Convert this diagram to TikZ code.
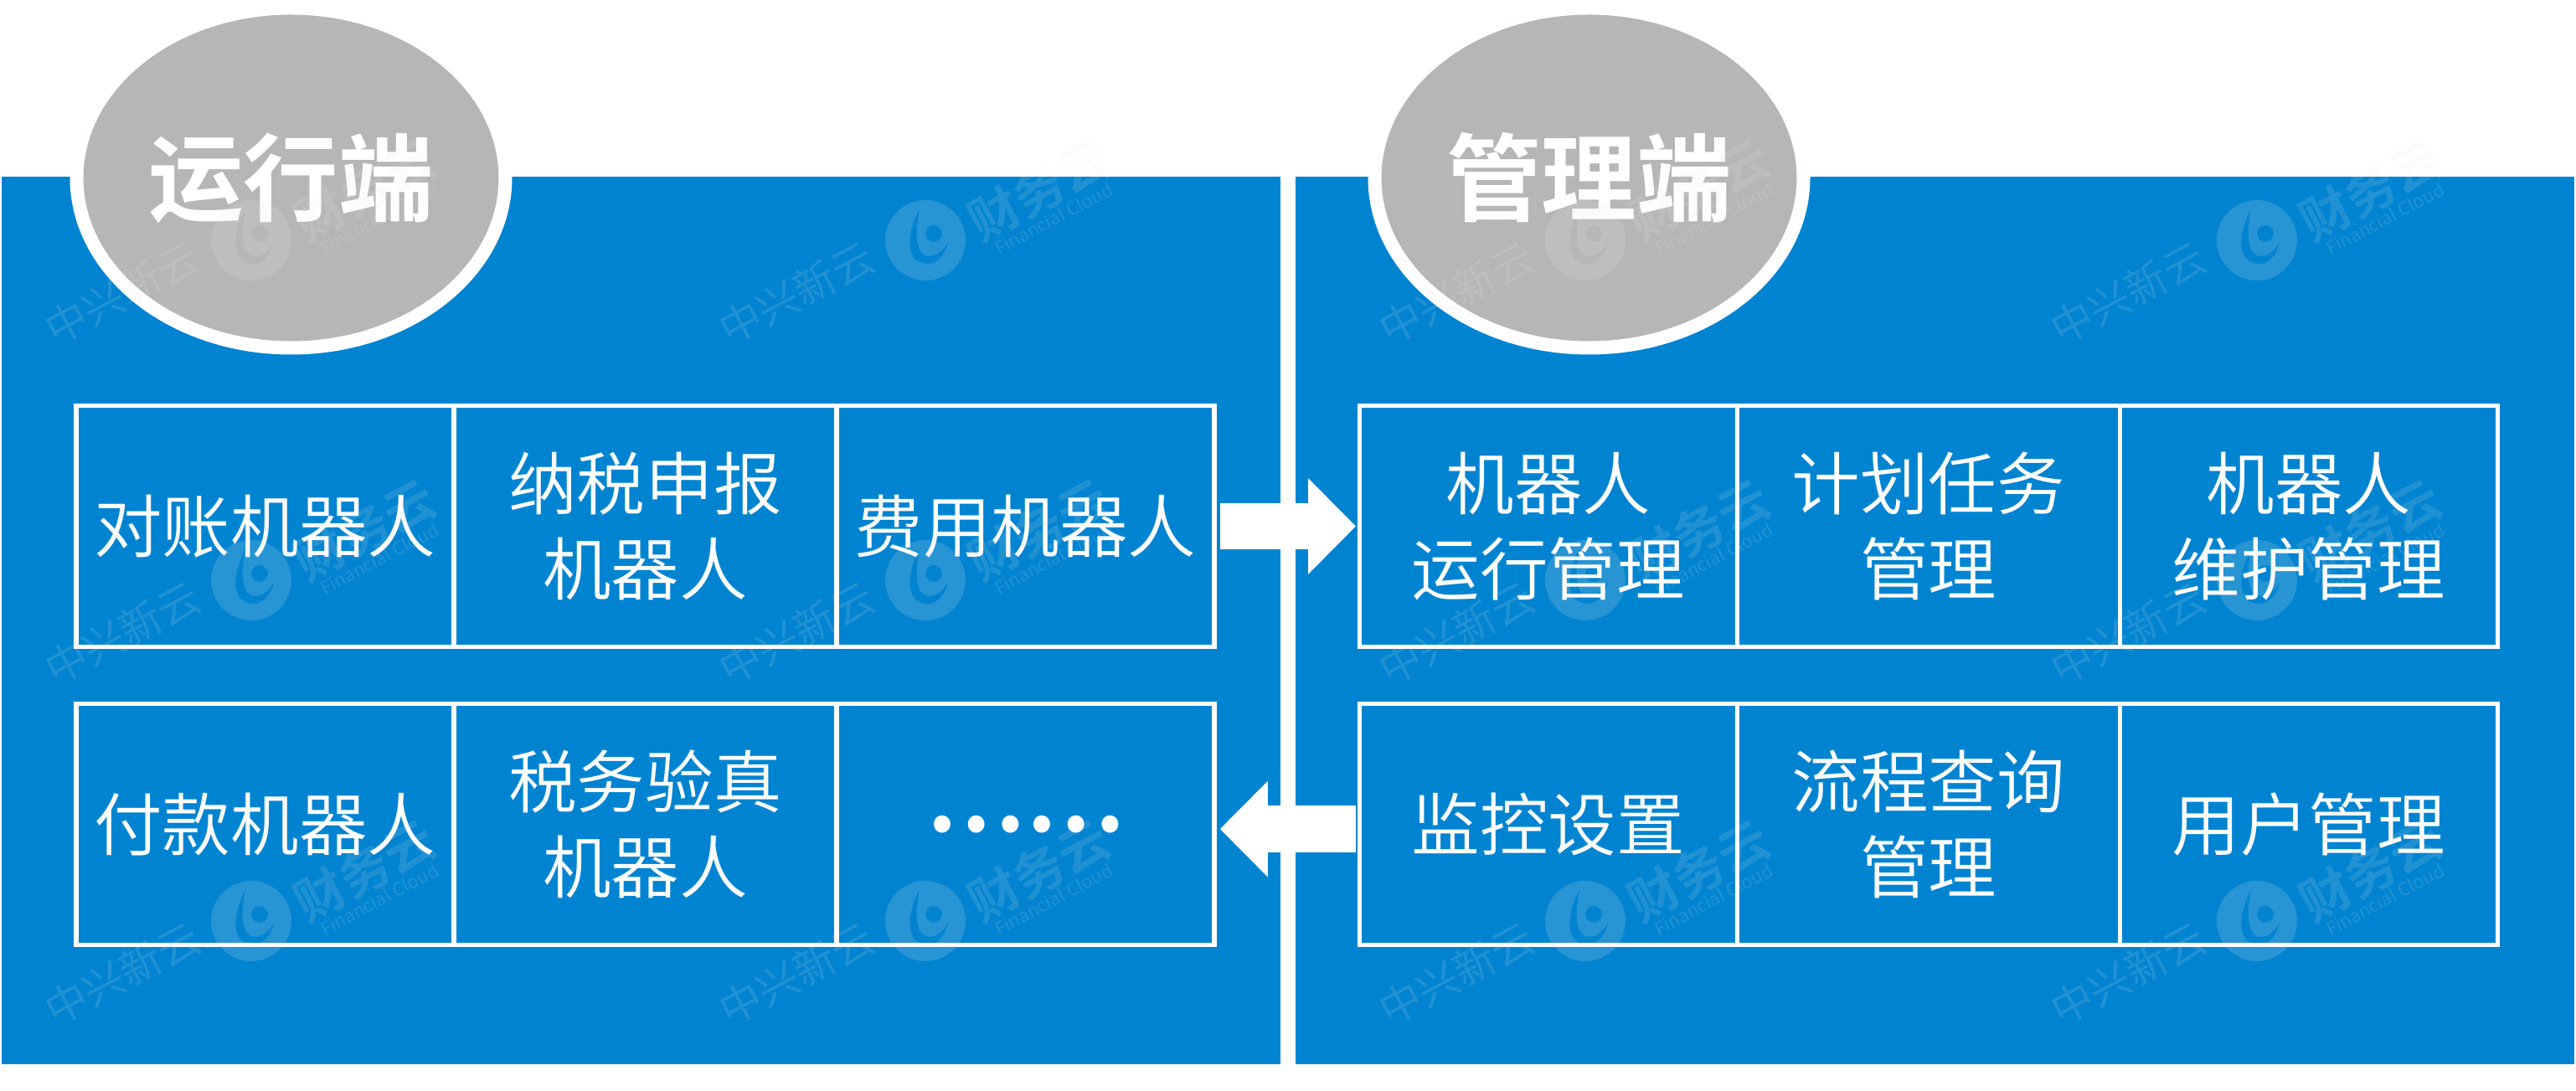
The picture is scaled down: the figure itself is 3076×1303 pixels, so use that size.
\documentclass[tikz,border=0pt]{standalone}
\usepackage{fontspec}
\usepackage{xcolor}
\usepackage{tikz}
\usetikzlibrary{arrows.meta,positioning,shapes.geometric}
\setmainfont{Noto Sans CJK SC DemiLight}
\newfontfamily\headfont{Noto Sans CJK SC Bold}
\newfontfamily\markfont{Noto Sans CJK SC}
\definecolor{panelblue}{HTML}{0084D1}
\definecolor{headgrey}{HTML}{B5B6B6}
\definecolor{markgrey}{HTML}{E8E8E8}

\begin{document}
\begin{tikzpicture}[
  x=0.25pt, y=-0.25pt,
  panel/.style={rectangle, fill=panelblue, anchor=north west, minimum width=381.75pt, minimum height=265pt, inner sep=0pt, outer sep=0pt},
  head/.style={ellipse, draw=white, fill=headgrey, line width=4pt, minimum width=128pt, minimum height=101.5pt, inner sep=0pt, text=white, font=\headfont\fontsize{28.4}{30}\selectfont},
  cell/.style={rectangle, draw=white, line width=1.4pt, minimum width=112.7pt, minimum height=72pt, inner sep=0pt, outer sep=0pt, align=center, text=white, font=\fontsize{20.4}{25.5}\selectfont},
  midcell/.style={cell, minimum width=114.3pt},
  arrow/.style={-{Triangle[length=14.25pt, width=27.8pt]}, white, line width=13.8pt},
  wmark/.style={text=markgrey, text opacity=.14, inner sep=0pt, rotate=28},
]
\useasboundingbox (0,0) rectangle (3076,1303);

% panels
\node[panel] (runpanel) at (2,211) {};
\node[panel] (mgmtpanel) at (1547,211) {};

% headings
\node[head] (runhead) at (347.5,212.5) {运行端};
\node[head] (mgmthead) at (1897.5,212.5) {管理端};

% left side
\node[cell, anchor=north west] (reconcile) at (91,484.5) {对账机器人};
\node[midcell, right=0pt of reconcile] (taxfile) {纳税申报\\机器人};
\node[cell, right=0pt of taxfile] (expense) {费用机器人};
\node[cell, anchor=north west] (payment) at (91,840.5) {付款机器人};
\node[midcell, right=0pt of payment] (taxcheck) {税务验真\\机器人};
\node[cell, right=0pt of taxcheck, font=\headfont\fontsize{27}{30}\selectfont] (more) {……};

% right side
\node[cell, anchor=north west] (robotrun) at (1623.5,484.5) {机器人\\运行管理};
\node[midcell, right=0pt of robotrun] (schedule) {计划任务\\管理};
\node[cell, right=0pt of schedule] (robotcare) {机器人\\维护管理};
\node[cell, anchor=north west] (monitor) at (1623.5,840.5) {监控设置};
\node[midcell, right=0pt of monitor] (query) {流程查询\\管理};
\node[cell, right=0pt of query] (users) {用户管理};

\draw[arrow, shorten <=1.75pt, shorten >=1.1pt] (expense.east) -- (robotrun.west);
\draw[arrow, shorten <=1.1pt, shorten >=1.75pt] ([yshift=-1.4pt]monitor.west) -- ([yshift=-1.4pt]more.east);

% faint marks on top
\foreach \mx/\i in {300/a,1105/b,1893/c,2695/d}
  \foreach \my/\j in {287/1,693/2,1100/3} {
    \fill[markgrey, fill opacity=.17, even odd rule, shift={(\mx,\my)}]
      (0,0) circle[radius=48] (10,-8) circle[radius=10]
      (-7,-38) .. controls (-18,-17) and (-24,10) .. (-12,23)
      .. controls (0,32) and (20,32) .. (28,0)
      .. controls (20,17) and (6,22) .. (-2,17)
      .. controls (-12,10) and (-12,-12) .. (-7,-38) -- cycle;
    \node[wmark, font=\markfont\fontsize{12.5}{14}\selectfont] (cn\i\j) at (\mx-154,\my+63) {中兴新云};
    \node[wmark, font=\headfont\fontsize{15}{17}\selectfont] (fin\i\j) at (\mx+135,\my-60) {财务云};
    \node[wmark, font=\markfont\fontsize{5.4}{6}\selectfont] (en\i\j) at (\mx+153,\my-26) {Financial Cloud};
  }

\end{tikzpicture}
\end{document}
